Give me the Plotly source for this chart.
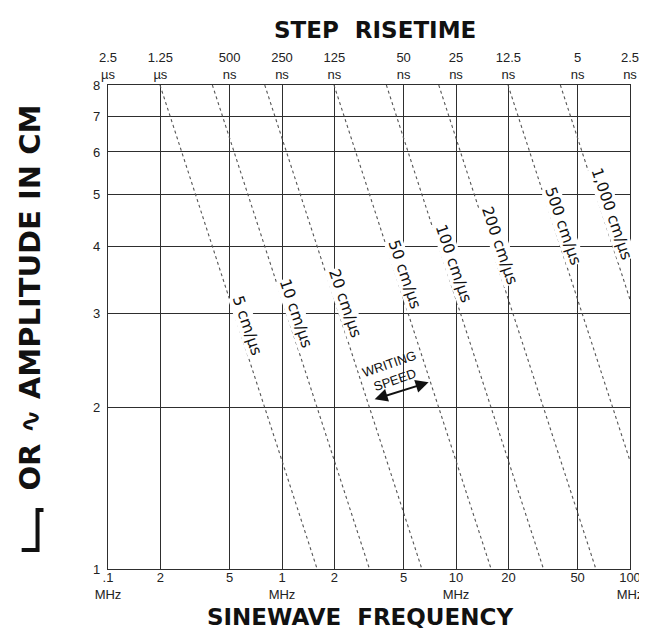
import numpy as np
import plotly.graph_objects as go

# ---- data ----
freq_ticks = [0.1, 0.2, 0.5, 1, 2, 5, 10, 20, 50, 100]          # MHz
freq_labels = [".1<br>MHz", "2", "5", "1<br>MHz", "2", "5", "10<br>MHz", "20", "50", "100<br>MHz"]
rise_labels = ["2.5<br>µs", "1.25<br>µs", "500<br>ns", "250<br>ns", "125<br>ns",
               "50<br>ns", "25<br>ns", "12.5<br>ns", "5<br>ns", "2.5<br>ns"]
amp_ticks = [1, 2, 3, 4, 5, 6, 7, 8]                               # cm
writing_speeds = [5, 10, 20, 50, 100, 200, 500, 1000]             # cm/us
speed_labels = ["5 cm/µs", "10 cm/µs", "20 cm/µs", "50 cm/µs", "100 cm/µs",
                "200 cm/µs", "500 cm/µs", "1,000 cm/µs"]
label_amps = [2.84, 3.0, 3.13, 3.55, 3.72, 4.01, 4.36, 4.59]     # where labels sit (cm)

F_MIN, F_MAX = 0.1, 100
A_MIN, A_MAX = 1, 8

NARROW = "Liberation Sans Narrow, Arial Narrow, Liberation Sans, sans-serif"
LABEL = "DejaVu Sans, Liberation Sans, sans-serif"
BOLD = "DejaVu Sans, Verdana, sans-serif"
GRID = "#2e2e2e"
LINE = "#555555"

fig = go.Figure()

# writing-speed lines: A = v / (pi f)
for v in writing_speeds:
    f_lo = max(F_MIN, v / (np.pi * A_MAX))
    f_hi = min(F_MAX, v / (np.pi * A_MIN))
    fx = np.array([f_lo, f_hi])
    fig.add_trace(go.Scatter(x=fx, y=v / (np.pi * fx), mode="lines",
                             line=dict(color=LINE, width=1.1, dash="dot"),
                             showlegend=False, hoverinfo="skip"))

# invisible trace for the top (risetime) axis
fig.add_trace(go.Scatter(x=freq_ticks, y=[A_MIN] * len(freq_ticks), xaxis="x2",
                         mode="markers", marker=dict(opacity=0), showlegend=False,
                         hoverinfo="skip"))

annotations = []
for v, txt, a in zip(writing_speeds, speed_labels, label_amps):
    f = v / (np.pi * a)
    annotations.append(dict(x=np.log10(f), y=np.log10(a), xref="x", yref="y",
                            text=txt, showarrow=False, textangle=71, xshift=9,
                            xanchor="center", yanchor="middle",
                            font=dict(family=LABEL, size=15.5, color="#111"),
                            bgcolor="white", borderpad=0))

# writing speed note with double arrow
annotations.append(dict(x=np.log10(4.28), y=np.log10(2.33), xref="x", yref="y",
                        text="WRITING<br>SPEED", showarrow=False, textangle=-19,
                        xanchor="center", yanchor="middle",
                        font=dict(family=NARROW, size=13, color="#111")))
annotations.append(dict(x=np.log10(6.96), y=np.log10(2.23), xref="x", yref="y",
                        ax=np.log10(3.34), ay=np.log10(2.07), axref="x", ayref="y",
                        text="", showarrow=True, arrowhead=2, arrowside="end+start",
                        arrowsize=1.3, arrowwidth=2, arrowcolor="#111"))

def px(xp, yp):
    return (xp - 100) / 526, (561 - yp) / 484

# titles
tx, ty = px(369, 22)
annotations.append(dict(x=tx, y=ty, xref="paper", yref="paper", xanchor="center",
                        yanchor="middle", text="<b>STEP  RISETIME</b>", showarrow=False,
                        font=dict(family=BOLD, size=23, color="#111")))
tx, ty = px(354, 609)
annotations.append(dict(x=tx, y=ty, xref="paper", yref="paper", xanchor="center",
                        yanchor="middle", text="<b>SINEWAVE  FREQUENCY</b>", showarrow=False,
                        font=dict(family=BOLD, size=23, color="#111")))
tx, ty = px(21, 290)
annotations.append(dict(x=tx, y=ty, xref="paper", yref="paper", xanchor="center",
                        yanchor="middle", text="<b>OR ∿ AMPLITUDE IN CM</b>",
                        showarrow=False, textangle=-90,
                        font=dict(family=BOLD, size=29, color="#111")))

# step glyph before the y title
x0, y0 = px(13, 542)
x1, y1 = px(29, 542)
x2, y2 = px(29, 502)
x3, y3 = px(35, 502)
shapes = [dict(type="path", xref="paper", yref="paper",
               path=f"M {x0} {y0} L {x1} {y1} L {x2} {y2} L {x3} {y3}",
               line=dict(color="#111", width=4))]

axis_common = dict(type="log", showgrid=True, gridcolor=GRID, gridwidth=1.4,
                   zeroline=False, ticks="", showline=True, linecolor=GRID,
                   linewidth=1.4, mirror=True)

fig.update_layout(
    width=647, height=632, autosize=False,
    margin=dict(l=100, r=21, t=77, b=71),
    paper_bgcolor="white", plot_bgcolor="white",
    xaxis=dict(range=[np.log10(F_MIN), np.log10(F_MAX)], tickvals=freq_ticks,
               ticktext=freq_labels, tickangle=0, ticklabelstandoff=-4,
               tickfont=dict(family=NARROW, size=13, color="#222"), **axis_common),
    xaxis2=dict(type="log", range=[np.log10(F_MIN), np.log10(F_MAX)], overlaying="x",
                side="top", tickvals=freq_ticks, ticktext=rise_labels, tickangle=0,
                showgrid=False, zeroline=False, ticks="", showline=False,
                ticklabelstandoff=2,
                tickfont=dict(family=NARROW, size=13, color="#222")),
    yaxis=dict(range=[np.log10(A_MIN), np.log10(A_MAX)], tickvals=amp_ticks,
               ticktext=[str(a) for a in amp_ticks], ticklabelstandoff=4,
               tickfont=dict(family=NARROW, size=13, color="#222"), **axis_common),
    annotations=annotations, shapes=shapes,
    showlegend=False,
)

fig.write_html("out.html")
